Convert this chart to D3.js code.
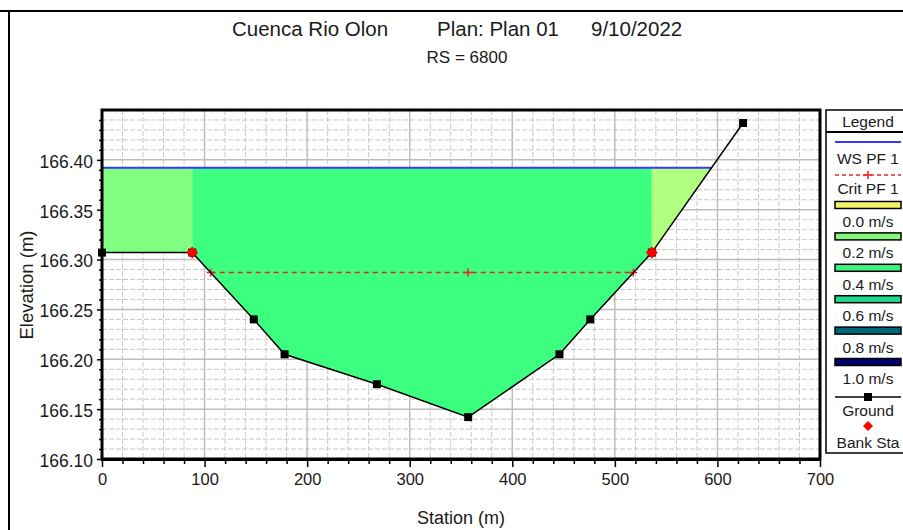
<!DOCTYPE html>
<html><head><meta charset="utf-8">
<script src="https://cdn.jsdelivr.net/npm/d3@7"></script>
<style>
body{margin:0;background:#fff}
svg text{font-family:"Liberation Sans",Arial,sans-serif;fill:#1a1a1a}
</style>
</head><body>
<svg id="c" width="903" height="530"></svg>
<script>
// ---------- data ----------
const stations   = [0, 88, 148, 178, 268, 357, 446, 476, 536, 625];
const elevations = [166.307, 166.307, 166.240, 166.205, 166.175, 166.142, 166.205, 166.240, 166.307, 166.437];
const bankStations = [88, 536];
const wsElevation = 166.392;
const critElevation = 166.287;
const critMarkerStations = [106, 357, 518];
const regionColors = ["#80ff80", "#3cff80", "#b0ff80"];
const xTickValues = [0, 100, 200, 300, 400, 500, 600, 700];
const yTickValues = [166.10, 166.15, 166.20, 166.25, 166.30, 166.35, 166.40];
const titleParts = ["Cuenca Rio Olon", "Plan: Plan 01", "9/10/2022"];
const subTitle = "RS = 6800";
const legendVelocityLabels = ["0.0 m/s", "0.2 m/s", "0.4 m/s", "0.6 m/s", "0.8 m/s", "1.0 m/s"];
const legendVelocityColors = ["#f2f26a", "#86f77a", "#3cf57e", "#22d88a", "#00677a", "#00006e"];

// ---------- setup ----------
const svg = d3.select("#c");
const W = 903, H = 530;
const plot = {l: 102, r: 820, t: 110, b: 459};
const x = d3.scaleLinear().domain([0, 700]).range([plot.l, plot.r]);
const y = d3.scaleLinear().domain([166.10, 166.45]).range([plot.b, plot.t]);
const groundAt = d3.scaleLinear().domain(stations).range(elevations).clamp(true);

svg.append("rect").attr("width", W).attr("height", H).attr("fill", "#fff");
// window borders
svg.append("line").attr("x1", 0).attr("x2", W).attr("y1", 11).attr("y2", 11).attr("stroke", "#000").attr("stroke-width", 2);
svg.append("line").attr("x1", 9).attr("x2", 9).attr("y1", 11).attr("y2", H).attr("stroke", "#000").attr("stroke-width", 2);

// titles
const titleX = [232, 437, 591];
titleParts.forEach((t, i) => {
  svg.append("text").attr("x", titleX[i]).attr("y", 36).attr("font-size", 20.5).text(t);
});
svg.append("text").attr("x", 467).attr("y", 63).attr("text-anchor", "middle").attr("font-size", 17).text(subTitle);

// clip
svg.append("clipPath").attr("id", "pc").append("rect")
  .attr("x", plot.l).attr("y", plot.t).attr("width", plot.r - plot.l).attr("height", plot.b - plot.t);

// grid
const g = svg.append("g").attr("clip-path", "url(#pc)");
const minorX = d3.range(0, 701, 20).filter(v => v % 100 !== 0);
const minorY = d3.range(0, 36).map(i => 166.10 + i * 0.01).filter((v, i) => i % 5 !== 0);
const majorY = d3.range(0, 8).map(i => 166.10 + i * 0.05);
g.selectAll(".mx").data(minorX).join("line")
  .attr("x1", d => x(d)).attr("x2", d => x(d)).attr("y1", plot.t).attr("y2", plot.b)
  .attr("stroke", "#c8c8c8").attr("stroke-width", 1).attr("stroke-dasharray", "5,2");
g.selectAll(".my").data(minorY).join("line")
  .attr("y1", d => y(d)).attr("y2", d => y(d)).attr("x1", plot.l).attr("x2", plot.r)
  .attr("stroke", "#c8c8c8").attr("stroke-width", 1).attr("stroke-dasharray", "5,2");
g.selectAll(".Mx").data(xTickValues).join("line")
  .attr("x1", d => x(d)).attr("x2", d => x(d)).attr("y1", plot.t).attr("y2", plot.b)
  .attr("stroke", "#bdbdbd").attr("stroke-width", 1.5);
g.selectAll(".My").data(majorY).join("line")
  .attr("y1", d => y(d)).attr("y2", d => y(d)).attr("x1", plot.l).attr("x2", plot.r)
  .attr("stroke", "#bdbdbd").attr("stroke-width", 1.5);

// water regions
function waterPoints(a, b) {
  const br = [a, ...stations.filter(s => s > a && s < b), b];
  const pts = [];
  for (let i = 0; i < br.length; i++) {
    const s = br[i], z = groundAt(s);
    if (i > 0) {
      const s0 = br[i - 1], z0 = groundAt(s0);
      if ((z0 - wsElevation) * (z - wsElevation) < 0) {
        const t = (wsElevation - z0) / (z - z0);
        pts.push([s0 + t * (s - s0), wsElevation]);
      }
    }
    if (z <= wsElevation) pts.push([s, z]);
  }
  return pts;
}
const bounds = [stations[0], ...bankStations, stations[stations.length - 1]];
const area = d3.area().x(d => x(d[0])).y0(d => y(d[1])).y1(() => y(wsElevation));
let wsEnd = 0;
for (let i = 0; i < 3; i++) {
  const pts = waterPoints(bounds[i], bounds[i + 1]);
  wsEnd = Math.max(wsEnd, pts[pts.length - 1][0]);
  g.append("path").attr("d", area(pts)).attr("fill", regionColors[i]);
}

// WS line
g.append("line").attr("x1", x(0)).attr("x2", x(wsEnd)).attr("y1", y(wsElevation)).attr("y2", y(wsElevation))
  .attr("stroke", "#3a3aff").attr("stroke-width", 2);

// Crit line
const critFirst = critMarkerStations[0], critLast = critMarkerStations[critMarkerStations.length - 1];
svg.append("line").attr("x1", x(critFirst)).attr("x2", x(critLast)).attr("y1", y(critElevation)).attr("y2", y(critElevation))
  .attr("stroke", "#ee2222").attr("stroke-width", 1.5).attr("stroke-dasharray", "5,4");
const plusPath = (cx, cy, r) => `M${cx - r},${cy}H${cx + r}M${cx},${cy - r}V${cy + r}`;
svg.selectAll(".cm").data(critMarkerStations).join("path")
  .attr("d", d => plusPath(x(d), y(critElevation), 4)).attr("stroke", "#ee2222").attr("stroke-width", 1.5);

// ground
const line = d3.line().x((d, i) => x(stations[i])).y(d => y(d));
svg.append("path").attr("d", line(elevations)).attr("fill", "none").attr("stroke", "#000").attr("stroke-width", 1.5);

// frame
svg.append("rect").attr("x", plot.l).attr("y", plot.t).attr("width", plot.r - plot.l).attr("height", plot.b - plot.t)
  .attr("fill", "none").attr("stroke", "#000").attr("stroke-width", 3);
svg.append("line").attr("x1", plot.l - 1).attr("x2", plot.r + 1).attr("y1", plot.b + 1).attr("y2", plot.b + 1)
  .attr("stroke", "#000").attr("stroke-width", 2);

// ground points
svg.selectAll(".gp").data(elevations).join("rect")
  .attr("x", (d, i) => x(stations[i]) - 4).attr("y", d => y(d) - 4)
  .attr("width", 8).attr("height", 8).attr("fill", "#000");
// bank stations
const diamond = (cx, cy, r) => `M${cx},${cy - r}L${cx + r},${cy}L${cx},${cy + r}L${cx - r},${cy}Z`;
svg.selectAll(".bs").data(bankStations).join("path")
  .attr("d", d => diamond(x(d), y(groundAt(d)), 6)).attr("fill", "#ff0000");

// axes
const xAxis = d3.axisBottom(x).tickValues(xTickValues).tickSize(7).tickFormat(d3.format("d"));
const xa = svg.append("g").attr("transform", `translate(0,${plot.b + 1})`).call(xAxis);
xa.select(".domain").remove();
xa.selectAll(".tick line").attr("stroke", "#000").attr("stroke-width", 1.5);
xa.selectAll(".tick text").attr("font-size", 16.5).attr("font-family", "Liberation Sans, Arial, sans-serif")
  .attr("fill", "#1a1a1a").attr("y", 13).attr("dy", "0.71em");
const xMinor = d3.axisBottom(x).tickValues(minorX).tickSize(4).tickFormat("");
const xm = svg.append("g").attr("transform", `translate(0,${plot.b + 1})`).call(xMinor);
xm.select(".domain").remove();
xm.selectAll(".tick line").attr("stroke", "#000").attr("stroke-width", 1.5);

const yAxis = d3.axisLeft(y).tickValues(yTickValues).tickSize(5).tickFormat(d3.format(".2f"));
const ya = svg.append("g").attr("transform", `translate(${plot.l},0)`).call(yAxis);
ya.select(".domain").remove();
ya.selectAll(".tick line").attr("stroke", "#000").attr("stroke-width", 1.5);
ya.selectAll(".tick text").attr("font-size", 17.5).attr("font-family", "Liberation Sans, Arial, sans-serif")
  .attr("fill", "#1a1a1a").attr("x", -9).attr("dy", "0.42em");
const yMinor = d3.axisLeft(y).tickValues(minorY).tickSize(3).tickFormat("");
const ym = svg.append("g").attr("transform", `translate(${plot.l},0)`).call(yMinor);
ym.select(".domain").remove();
ym.selectAll(".tick line").attr("stroke", "#000").attr("stroke-width", 1.5);

// axis titles
svg.append("text").attr("x", 461).attr("y", 524).attr("text-anchor", "middle").attr("font-size", 18).text("Station (m)");
svg.append("text").attr("transform", "translate(33,285) rotate(-90)").attr("text-anchor", "middle").attr("font-size", 18.5).text("Elevation (m)");

// legend
const lg = svg.append("g");
const lx = 826, lr = 912;
lg.append("rect").attr("x", lx).attr("y", 110).attr("width", lr - lx).attr("height", 343)
  .attr("fill", "#fff").attr("stroke", "#000").attr("stroke-width", 1.5);
lg.append("line").attr("x1", lx).attr("x2", lr).attr("y1", 132).attr("y2", 132).attr("stroke", "#000").attr("stroke-width", 2);
const lcx = 868;
lg.append("text").attr("x", lcx).attr("y", 127).attr("text-anchor", "middle").attr("font-size", 15.5).text("Legend");
const sx0 = 835, sx1 = 901;
lg.append("line").attr("x1", sx0).attr("x2", sx1).attr("y1", 142).attr("y2", 142).attr("stroke", "#3a3aff").attr("stroke-width", 2);
lg.append("text").attr("x", lcx).attr("y", 164).attr("text-anchor", "middle").attr("font-size", 15.5).text("WS PF 1");
lg.append("line").attr("x1", sx0).attr("x2", sx1).attr("y1", 175).attr("y2", 175).attr("stroke", "#ee2222").attr("stroke-width", 1.5).attr("stroke-dasharray", "4,3");
lg.append("path").attr("d", plusPath(lcx, 175, 4)).attr("stroke", "#ee2222").attr("stroke-width", 1.5);
lg.append("text").attr("x", lcx).attr("y", 194).attr("text-anchor", "middle").attr("font-size", 15.5).text("Crit PF 1");
legendVelocityLabels.forEach((lab, i) => {
  const sy = 205 + i * 31.4;
  lg.append("rect").attr("x", sx0).attr("y", sy - 3.5).attr("width", sx1 - sx0).attr("height", 7)
    .attr("fill", legendVelocityColors[i]).attr("stroke", "#000").attr("stroke-width", 1.5);
  lg.append("text").attr("x", lcx).attr("y", sy + 22).attr("text-anchor", "middle").attr("font-size", 15.5).text(lab);
});
lg.append("line").attr("x1", sx0).attr("x2", sx1).attr("y1", 397).attr("y2", 397).attr("stroke", "#000").attr("stroke-width", 1.5);
lg.append("rect").attr("x", lcx - 4).attr("y", 393).attr("width", 8).attr("height", 8).attr("fill", "#000");
lg.append("text").attr("x", lcx).attr("y", 416).attr("text-anchor", "middle").attr("font-size", 15.5).text("Ground");
lg.append("path").attr("d", diamond(lcx, 426, 5)).attr("fill", "#ff0000");
lg.append("text").attr("x", lcx).attr("y", 448).attr("text-anchor", "middle").attr("font-size", 15.5).text("Bank Sta");
</script>
</body></html>
